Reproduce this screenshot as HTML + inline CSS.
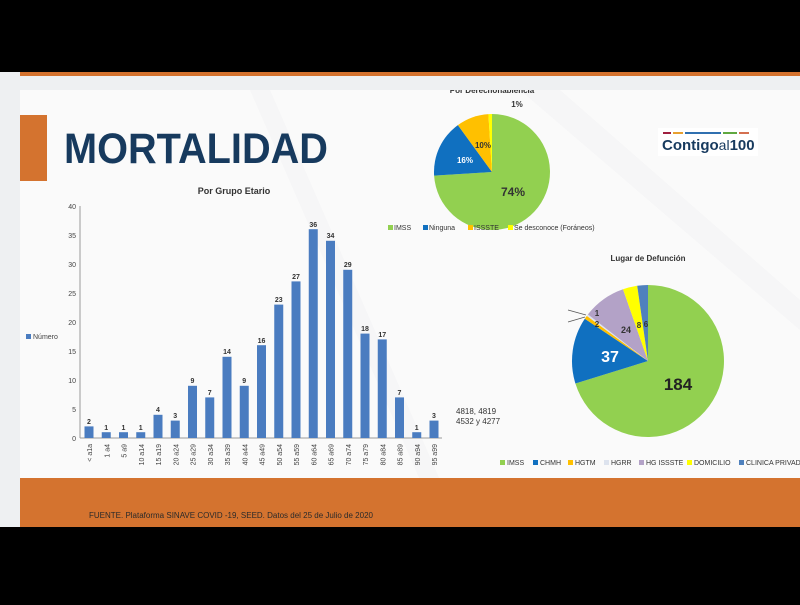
<!DOCTYPE html>
<html><head><meta charset="utf-8"><style>
body{margin:0;width:800px;height:600px;background:#000;overflow:hidden;font-family:"Liberation Sans",sans-serif}
</style></head><body>
<svg width="800" height="600" xmlns="http://www.w3.org/2000/svg" font-family="Liberation Sans, sans-serif">
<rect x="0" y="0" width="800" height="72" fill="#000"/>
<rect x="0" y="72" width="800" height="455" fill="#eef0f2"/>
<rect x="20" y="72" width="780" height="4" fill="#d4722e"/>
<rect x="20" y="90" width="780" height="390" fill="#fafafa"/>
<path d="M250,90 L420,480 L440,480 L270,90Z" fill="#f3f4f5" opacity="0.7"/>
<path d="M520,90 L800,330 L800,300 L560,90Z" fill="#f3f4f5" opacity="0.7"/>
<text x="492" y="93" font-size="8" font-weight="bold" text-anchor="middle" fill="#333">Por Derechohabiencia</text>
<rect x="20" y="76" width="780" height="14" fill="#eef0f2"/>
<rect x="20" y="478" width="780" height="49" fill="#d4732f"/>
<rect x="0" y="527" width="800" height="73" fill="#000"/>
<rect x="20" y="115" width="27" height="66" fill="#d4732f"/>
<text x="64" y="163" font-size="43" font-weight="bold" fill="#173a5e" textLength="264" lengthAdjust="spacingAndGlyphs">MORTALIDAD</text>
<text x="234" y="194" font-size="9" font-weight="bold" text-anchor="middle" fill="#333">Por Grupo Etario</text>
<g font-size="7" fill="#444" text-anchor="end">
<line x1="80" y1="206" x2="80" y2="438" stroke="#999"/>
<line x1="80" y1="438" x2="442" y2="438" stroke="#999"/>
<text x="76" y="441">0</text><text x="76" y="412">5</text><text x="76" y="383">10</text><text x="76" y="354">15</text><text x="76" y="325">20</text><text x="76" y="296">25</text><text x="76" y="267">30</text><text x="76" y="238">35</text><text x="76" y="209">40</text>
</g>
<rect x="26" y="334" width="5" height="5" fill="#4a7cc0"/><text x="33" y="339" font-size="7" fill="#444">Número</text>
<g fill="#4a7cc0">
<rect x="84.5" y="426.4" width="9" height="11.6"/><rect x="101.75" y="432.2" width="9" height="5.8"/><rect x="119" y="432.2" width="9" height="5.8"/><rect x="136.25" y="432.2" width="9" height="5.8"/><rect x="153.5" y="414.8" width="9" height="23.2"/><rect x="170.75" y="420.6" width="9" height="17.4"/><rect x="188" y="385.8" width="9" height="52.2"/><rect x="205.25" y="397.4" width="9" height="40.6"/><rect x="222.5" y="356.8" width="9" height="81.2"/><rect x="239.75" y="385.8" width="9" height="52.2"/><rect x="257" y="345.2" width="9" height="92.8"/><rect x="274.25" y="304.6" width="9" height="133.4"/><rect x="291.5" y="281.4" width="9" height="156.6"/><rect x="308.75" y="229.2" width="9" height="208.8"/><rect x="326" y="240.8" width="9" height="197.2"/><rect x="343.25" y="269.8" width="9" height="168.2"/><rect x="360.5" y="333.6" width="9" height="104.4"/><rect x="377.75" y="339.4" width="9" height="98.6"/><rect x="395" y="397.4" width="9" height="40.6"/><rect x="412.25" y="432.2" width="9" height="5.8"/><rect x="429.5" y="420.6" width="9" height="17.4"/>
</g>
<g font-size="7" font-weight="bold" fill="#333" text-anchor="middle">
<text x="89" y="424">2</text><text x="106.25" y="430">1</text><text x="123.5" y="430">1</text><text x="140.75" y="430">1</text><text x="158" y="412">4</text><text x="175.25" y="418">3</text><text x="192.5" y="383">9</text><text x="209.75" y="395">7</text><text x="227" y="354">14</text><text x="244.25" y="383">9</text><text x="261.5" y="343">16</text><text x="278.75" y="302">23</text><text x="296" y="279">27</text><text x="313.25" y="227">36</text><text x="330.5" y="238">34</text><text x="347.75" y="267">29</text><text x="365" y="331">18</text><text x="382.25" y="337">17</text><text x="399.5" y="395">7</text><text x="416.75" y="430">1</text><text x="434" y="418">3</text>
</g>
<g font-size="7" fill="#444" text-anchor="end">
<text transform="translate(92,444) rotate(-90)">&lt; a1a</text><text transform="translate(109.25,444) rotate(-90)">1 a4</text><text transform="translate(126.5,444) rotate(-90)">5 a9</text><text transform="translate(143.75,444) rotate(-90)">10 a14</text><text transform="translate(161,444) rotate(-90)">15 a19</text><text transform="translate(178.25,444) rotate(-90)">20 a24</text><text transform="translate(195.5,444) rotate(-90)">25 a29</text><text transform="translate(212.75,444) rotate(-90)">30 a34</text><text transform="translate(230,444) rotate(-90)">35 a39</text><text transform="translate(247.25,444) rotate(-90)">40 a44</text><text transform="translate(264.5,444) rotate(-90)">45 a49</text><text transform="translate(281.75,444) rotate(-90)">50 a54</text><text transform="translate(299,444) rotate(-90)">55 a59</text><text transform="translate(316.25,444) rotate(-90)">60 a64</text><text transform="translate(333.5,444) rotate(-90)">65 a69</text><text transform="translate(350.75,444) rotate(-90)">70 a74</text><text transform="translate(368,444) rotate(-90)">75 a79</text><text transform="translate(385.25,444) rotate(-90)">80 a84</text><text transform="translate(402.5,444) rotate(-90)">85 a89</text><text transform="translate(419.75,444) rotate(-90)">90 a94</text><text transform="translate(437,444) rotate(-90)">95 a99</text>
</g>
<text x="456" y="414" font-size="8" fill="#333">4818, 4819</text>
<text x="456" y="424" font-size="8" fill="#333">4532 y 4277</text>
<path d="M492,172 L492,114 A58,58 0 1 1 434.1,175.6Z" fill="#92d050"/>
<path d="M492,172 L434.1,175.6 A58,58 0 0 1 457.9,125.1Z" fill="#1070c0"/>
<path d="M492,172 L457.9,125.1 A58,58 0 0 1 488.4,114.1Z" fill="#ffc000"/>
<path d="M492,172 L488.4,114.1 A58,58 0 0 1 492,114Z" fill="#ffff00"/>
<text x="517" y="107" font-size="8" font-weight="bold" text-anchor="middle" fill="#333">1%</text>
<text x="483" y="148" font-size="8" font-weight="bold" text-anchor="middle" fill="#333">10%</text>
<text x="465" y="163" font-size="8" font-weight="bold" text-anchor="middle" fill="#fff">16%</text>
<text x="513" y="196" font-size="12" font-weight="bold" text-anchor="middle" fill="#333">74%</text>
<g font-size="7" fill="#333">
<rect x="388" y="225" width="5" height="5" fill="#92d050"/><text x="394" y="230">IMSS</text>
<rect x="423" y="225" width="5" height="5" fill="#1070c0"/><text x="429" y="230">Ninguna</text>
<rect x="468" y="225" width="5" height="5" fill="#ffc000"/><text x="474" y="230">ISSSTE</text>
<rect x="508" y="225" width="5" height="5" fill="#ffff00"/><text x="514" y="230">Se desconoce (Foráneos)</text>
</g>
<rect x="658" y="128" width="100" height="28" fill="#fff"/>
<rect x="663" y="132" width="8" height="2" fill="#a02040"/><rect x="673" y="132" width="10" height="2" fill="#e8a030"/><rect x="685" y="132" width="36" height="2" fill="#3070b0"/><rect x="723" y="132" width="14" height="2" fill="#60a840"/><rect x="739" y="132" width="10" height="2" fill="#d47050"/>
<text x="662" y="150" font-size="15" font-weight="bold" fill="#173a5e">Contigo<tspan font-weight="normal" font-size="14">al</tspan>100</text>
<text x="648" y="261" font-size="8" font-weight="bold" text-anchor="middle" fill="#333">Lugar de Defunción</text>
<path d="M648,361 L648,285 A76,76 0 1 1 575.4,383.5Z" fill="#92d050"/>
<path d="M648,361 L575.4,383.5 A76,76 0 0 1 584.8,318.8Z" fill="#1070c0"/>
<path d="M648,361 L584.8,318.8 A76,76 0 0 1 586.8,315.9Z" fill="#ffc000"/>
<path d="M648,361 L586.8,315.9 A76,76 0 0 1 587.9,314.4Z" fill="#dde3ee"/>
<path d="M648,361 L587.9,314.4 A76,76 0 0 1 623,289.2Z" fill="#b3a2c7"/>
<path d="M648,361 L623,289.2 A76,76 0 0 1 637.2,285.8Z" fill="#ffff00"/>
<path d="M648,361 L637.2,285.8 A76,76 0 0 1 648,285Z" fill="#4f81bd"/>
<line x1="568" y1="310" x2="586" y2="315" stroke="#555" stroke-width="0.7"/>
<line x1="568" y1="322" x2="585" y2="317" stroke="#555" stroke-width="0.7"/>
<text x="597" y="316" font-size="8" font-weight="bold" text-anchor="middle" fill="#333">1</text>
<text x="597" y="327" font-size="8" font-weight="bold" text-anchor="middle" fill="#333">2</text>
<text x="626" y="333" font-size="9" font-weight="bold" text-anchor="middle" fill="#333">24</text>
<text x="639" y="328" font-size="8" font-weight="bold" text-anchor="middle" fill="#333">8</text>
<text x="646" y="327" font-size="8" font-weight="bold" text-anchor="middle" fill="#333">6</text>
<text x="610" y="362" font-size="16" font-weight="bold" text-anchor="middle" fill="#fff">37</text>
<text x="678" y="390" font-size="17" font-weight="bold" text-anchor="middle" fill="#222">184</text>
<g font-size="7" fill="#333">
<rect x="500" y="460" width="5" height="5" fill="#92d050"/><text x="507" y="465">IMSS</text>
<rect x="533" y="460" width="5" height="5" fill="#1070c0"/><text x="540" y="465">CHMH</text>
<rect x="568" y="460" width="5" height="5" fill="#ffc000"/><text x="575" y="465">HGTM</text>
<rect x="604" y="460" width="5" height="5" fill="#dde3ee"/><text x="611" y="465">HGRR</text>
<rect x="639" y="460" width="5" height="5" fill="#b3a2c7"/><text x="646" y="465">HG ISSSTE</text>
<rect x="687" y="460" width="5" height="5" fill="#ffff00"/><text x="694" y="465">DOMICILIO</text>
<rect x="739" y="460" width="5" height="5" fill="#4f81bd"/><text x="746" y="465">CLINICA PRIVADA</text>
</g>
<text x="89" y="518" font-size="8" fill="#2a2a2a">FUENTE. Plataforma SINAVE COVID -19, SEED. Datos del 25 de Julio de 2020</text>
</svg>
</body></html>
